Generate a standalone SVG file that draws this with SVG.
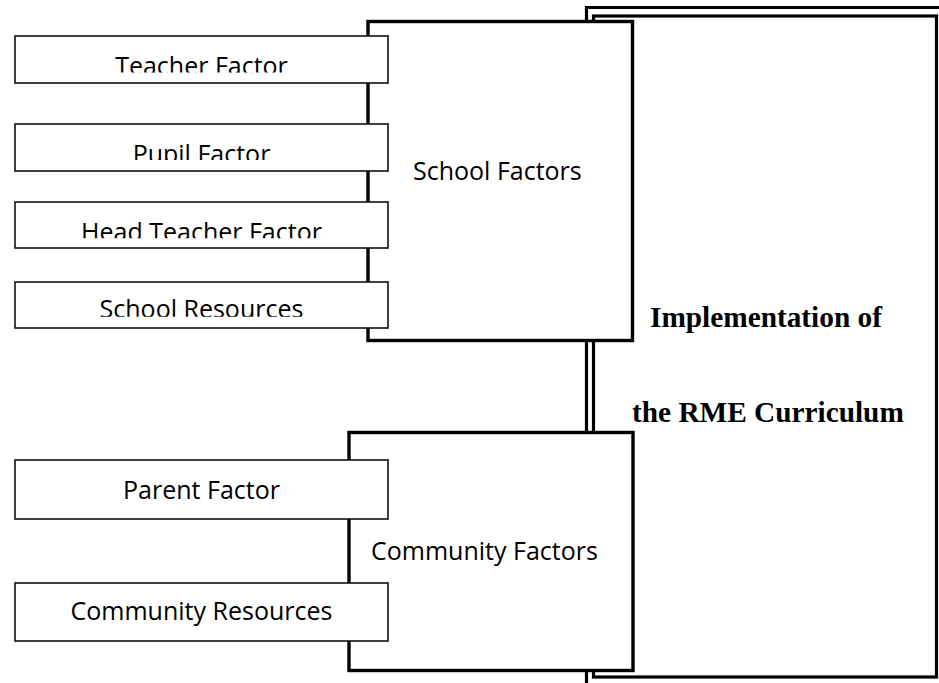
<svg xmlns="http://www.w3.org/2000/svg" width="939" height="683" viewBox="0 0 939 683">
  <style>
    .frame { fill: none; stroke: #000; stroke-width: 3.2; }
    .main { fill: #fff; stroke: #000; stroke-width: 3.4; }
    .item { fill: #fff; stroke: #111; stroke-width: 1.6; }
    .lbl { font-family: "Open Sans", "Liberation Sans", sans-serif; font-size: 25px; fill: #000; }
    .mid { text-anchor: middle; }
    .big { font-family: "Liberation Serif", "DejaVu Serif", serif; font-size: 29.3px; font-weight: bold; fill: #000; }
  </style>
  <defs>
    <!-- text areas of the factor boxes (inner margin cuts the lower part) -->
    <clipPath id="clipTeacher"><rect x="15" y="36" width="373" height="36.5"/></clipPath>
    <clipPath id="clipPupil"><rect x="15" y="124" width="373" height="36"/></clipPath>
    <clipPath id="clipHead"><rect x="15" y="202" width="373" height="36.3"/></clipPath>
    <clipPath id="clipRes"><rect x="15" y="282" width="373" height="34.7"/></clipPath>
  </defs>

  <rect width="939" height="683" fill="#fff"/>

  <!-- outcome box with thick double border -->
  <g id="implementation">
    <path class="frame" d="M586.5,690 V7.5 H945"/>
    <rect class="frame" x="593.5" y="16" width="343" height="661"/>
    <text class="big" x="650" y="327">Implementation of</text>
    <text class="big" x="632" y="422">the RME Curriculum</text>
  </g>

  <g id="connectors"></g>

  <!-- school group -->
  <g id="school-factors">
    <rect class="main" x="368" y="21.5" width="264.5" height="319"/>
    <text class="lbl" x="413" y="180">School Factors</text>
  </g>

  <g id="community-factors">
    <rect class="main" x="349" y="432.5" width="284" height="238"/>
    <text class="lbl" x="371" y="560">Community Factors</text>
  </g>

  <g id="teacher-factor">
    <rect class="item" x="15" y="36" width="373" height="47"/>
    <text class="lbl mid" x="201.5" y="74.5" clip-path="url(#clipTeacher)">Teacher Factor</text>
  </g>

  <g id="pupil-factor">
    <rect class="item" x="15" y="124" width="373" height="47"/>
    <text class="lbl mid" x="201.5" y="163" clip-path="url(#clipPupil)">Pupil Factor</text>
  </g>

  <g id="head-teacher-factor">
    <rect class="item" x="15" y="202" width="373" height="46"/>
    <text class="lbl mid" x="201.5" y="240.5" clip-path="url(#clipHead)">Head Teacher Factor</text>
  </g>

  <g id="school-resources">
    <rect class="item" x="15" y="282" width="373" height="46"/>
    <text class="lbl mid" x="201.5" y="318" clip-path="url(#clipRes)">School Resources</text>
  </g>

  <g id="parent-factor">
    <rect class="item" x="15" y="460" width="373" height="59"/>
    <text class="lbl mid" x="201.5" y="499">Parent Factor</text>
  </g>

  <g id="community-resources">
    <rect class="item" x="15" y="583" width="373" height="58"/>
    <text class="lbl mid" x="201.5" y="620">Community Resources</text>
  </g>
</svg>
